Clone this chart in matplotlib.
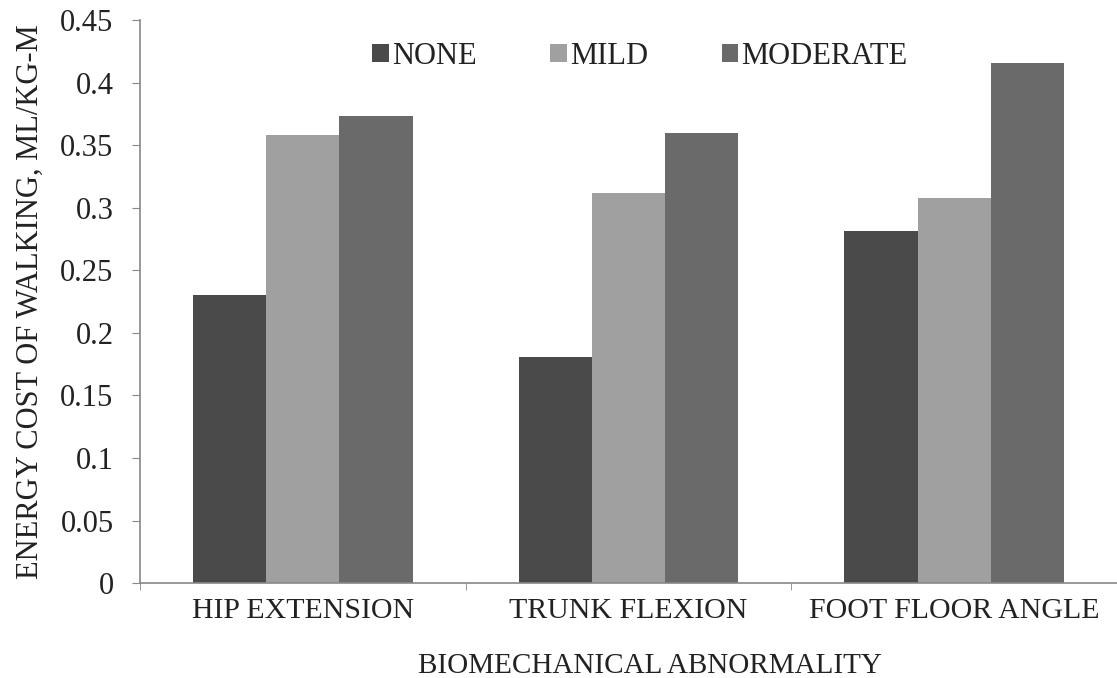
import matplotlib
matplotlib.use("Agg")
import matplotlib.pyplot as plt
import numpy as np

categories = ["HIP EXTENSION", "TRUNK FLEXION", "FOOT FLOOR ANGLE"]
series_names = ["NONE", "MILD", "MODERATE"]
none_vals = [0.230, 0.181, 0.281]
mild_vals = [0.358, 0.312, 0.308]
moderate_vals = [0.373, 0.360, 0.416]
colors = ["#4a4a4a", "#a0a0a0", "#6a6a6a"]
yticks = [0, 0.05, 0.1, 0.15, 0.2, 0.25, 0.3, 0.35, 0.4, 0.45]
ytick_labels = ["0", "0.05", "0.1", "0.15", "0.2", "0.25", "0.3", "0.35", "0.4", "0.45"]

plt.rcParams['font.family'] = ['Liberation Serif', 'DejaVu Serif']
FS = 21.5

fig = plt.figure(figsize=(11.17, 6.78), dpi=100)
ax = fig.add_axes([0.1253, 0.140, 0.8747, 0.8305])

x = np.arange(len(categories))
w = 0.225
for i, (vals, name) in enumerate(zip([none_vals, mild_vals, moderate_vals], series_names)):
    ax.bar(x + (i - 1) * w, vals, width=w, color=colors[i], label=name)

ax.set_xlim(-0.5, 2.5)
ax.set_ylim(0, 0.45)
ax.set_yticks(yticks)
ax.set_yticklabels(ytick_labels, fontsize=FS + 0.5, color='#222222')
ax.set_xticks(x)
ax.set_xticklabels(categories, fontsize=FS, color='#222222')
ax.tick_params(axis='x', which='major', length=0, pad=11)
ax.set_xticks([-0.5, 0.5, 1.5, 2.5], minor=True)
ax.tick_params(axis='x', which='minor', length=5, color='#888888', direction='out')
ax.tick_params(axis='y', length=6, color='#888888', pad=13)

for s in ['top', 'right']:
    ax.spines[s].set_visible(False)
for s in ['left', 'bottom']:
    ax.spines[s].set_color('#888888')
    ax.spines[s].set_linewidth(1.2)

ax.set_xlabel("BIOMECHANICAL ABNORMALITY", fontsize=FS - 0.5, labelpad=18, color='#222222')
ax.xaxis.set_label_coords(0.522, -0.125)
ax.set_ylabel("ENERGY COST OF WALKING, ML/KG-M", fontsize=22, labelpad=11, color='#222222')

fig.legend(loc='center', bbox_to_anchor=(0.573, 0.917), ncol=3, frameon=False,
           fontsize=22, handlelength=0.55, handleheight=0.55, handletextpad=0.1,
           columnspacing=2.4, labelcolor='#222222')

fig.savefig("out.png", dpi=100)
